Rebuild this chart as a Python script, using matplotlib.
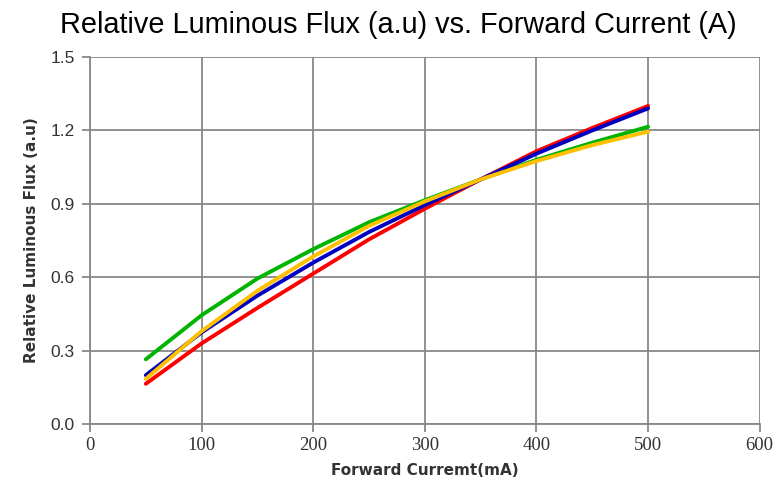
import matplotlib.pyplot as plt

# Forward current (mA)
current = [50, 100, 150, 200, 250, 300, 350, 400, 450, 500]

# Relative luminous flux for each curve
flux_green = [0.265, 0.445, 0.595, 0.715, 0.825, 0.915, 1.000, 1.080, 1.150, 1.215]
flux_yellow = [0.185, 0.380, 0.545, 0.685, 0.810, 0.910, 1.000, 1.075, 1.140, 1.195]
flux_blue = [0.200, 0.375, 0.525, 0.660, 0.785, 0.895, 1.000, 1.105, 1.200, 1.290]
flux_red = [0.165, 0.330, 0.475, 0.615, 0.755, 0.880, 1.000, 1.115, 1.210, 1.300]

x_ticks = [0, 100, 200, 300, 400, 500, 600]
y_ticks = [0.0, 0.3, 0.6, 0.9, 1.2, 1.5]

fig = plt.figure(figsize=(7.76, 4.87), dpi=100)
ax = fig.add_axes([0.116, 0.129, 0.863, 0.754])

ax.plot(current, flux_green, color="#00B400", linewidth=2.8, solid_capstyle="round")
ax.plot(current, flux_red, color="#FF0000", linewidth=2.8, solid_capstyle="round")
ax.plot(current, flux_blue, color="#0000C0", linewidth=2.8, solid_capstyle="round")
ax.plot(current, flux_yellow, color="#FFC000", linewidth=2.8, solid_capstyle="round")

ax.set_xlim(0, 600)
ax.set_ylim(0, 1.5)
ax.set_xticks(x_ticks)
ax.set_yticks(y_ticks)
ax.set_yticklabels([f"{v:.1f}" for v in y_ticks], fontsize=12.5, family="Liberation Sans")
ax.set_xticklabels([str(v) for v in x_ticks], fontsize=13.5, family="Liberation Serif")

ax.grid(True, color="#888888", linewidth=1.3)
ax.set_axisbelow(True)
for side in ["top", "right"]:
    ax.spines[side].set_visible(False)
for side in ["left", "bottom"]:
    ax.spines[side].set_color("#888888")
    ax.spines[side].set_linewidth(1.3)
ax.tick_params(axis="both", color="#888888", width=1.3, length=6, labelcolor="#333333")
ax.tick_params(axis="y", pad=5)

ax.set_xlabel("Forward Curremt(mA)", fontsize=11, fontweight="bold", color="#333333", labelpad=6)
ax.set_ylabel("Relative Luminous Flux (a.u)", fontsize=11, fontweight="bold", color="#333333", labelpad=8)

fig.suptitle("Relative Luminous Flux (a.u) vs. Forward Current (A)", fontsize=20.8,
             family="Liberation Sans", x=0.513, y=0.978)

plt.savefig("out.png", dpi=100)
